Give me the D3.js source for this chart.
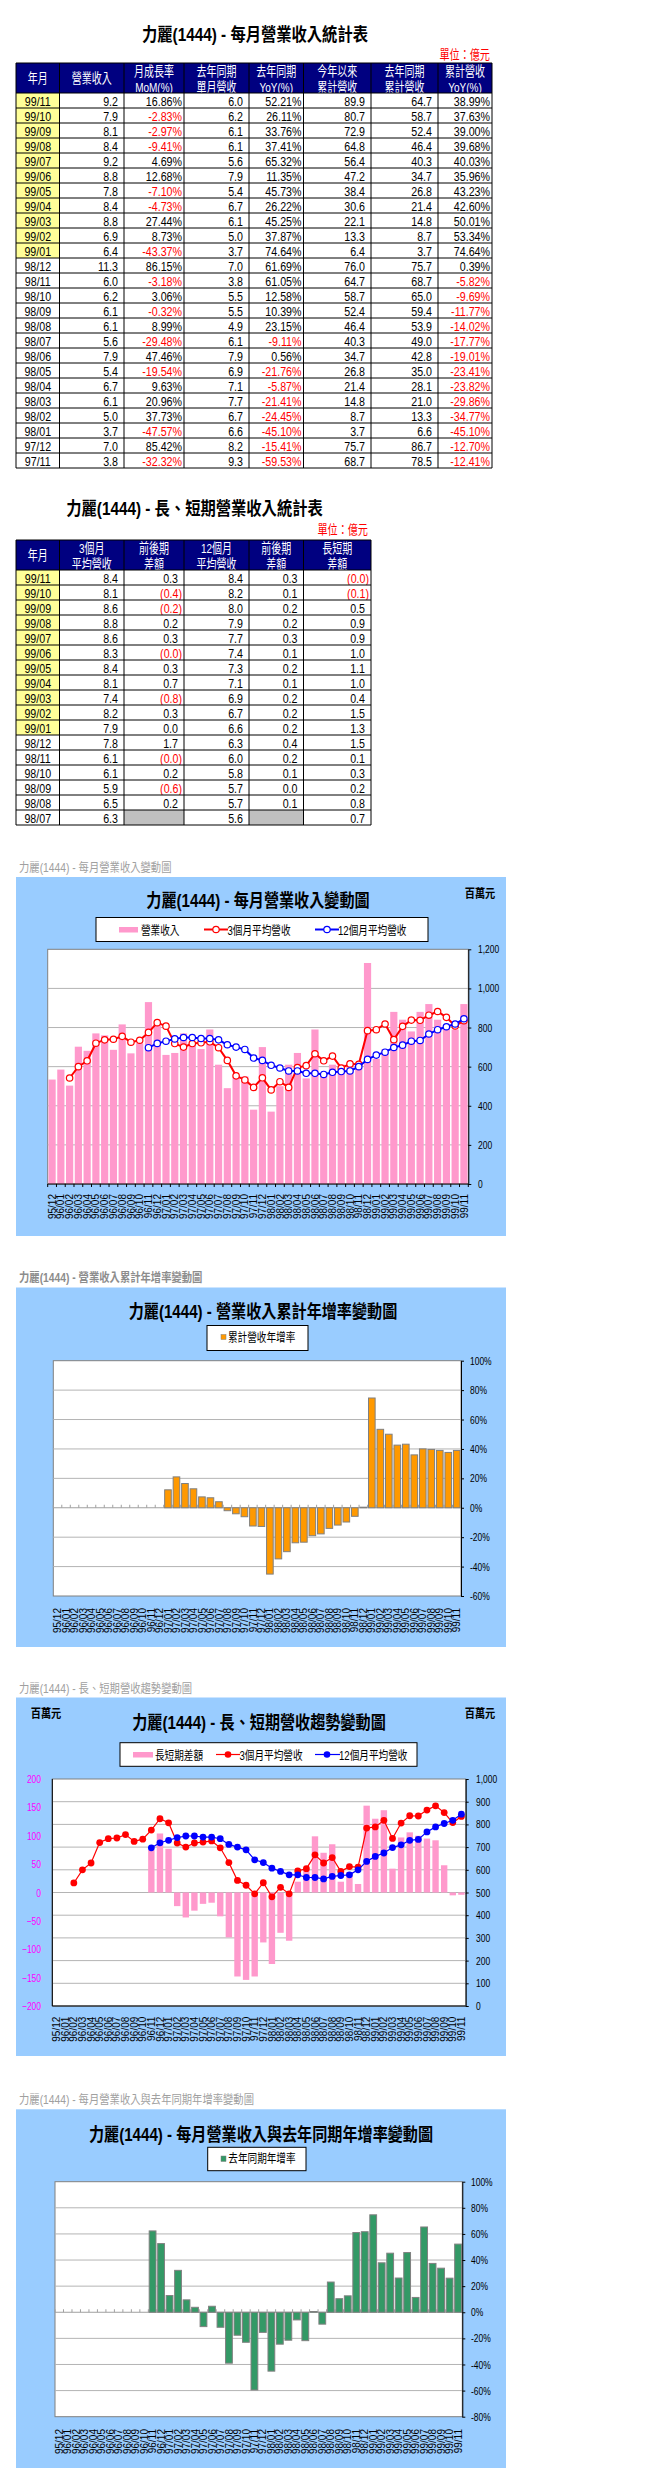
<!DOCTYPE html>
<html>
<head>
<meta charset="utf-8">
<script src="https://cdn.jsdelivr.net/npm/d3@7"></script>
<style>
  body { margin: 0; background: #fff; }
  svg { display: block; font-family: "Liberation Sans", "Noto Sans CJK TC", sans-serif; }
</style>
</head>
<body>
<div id="chart"></div>
<script>
// 月份 (圖表的類別)
const months = ["95/12",
  "96/01","96/02","96/03","96/04","96/05","96/06","96/07","96/08","96/09","96/10","96/11","96/12",
  "97/01","97/02","97/03","97/04","97/05","97/06","97/07","97/08","97/09","97/10","97/11","97/12",
  "98/01","98/02","98/03","98/04","98/05","98/06","98/07","98/08","98/09","98/10","98/11","98/12",
  "99/01","99/02","99/03","99/04","99/05","99/06","99/07","99/08","99/09","99/10","99/11"];

// 每月營收 (百萬元)
const revenue = [534,
  585,503,702,681,770,760,686,816,668,720,930,820,
  660,670,770,710,690,790,610,490,550,550,380,700,
  370,500,610,670,540,790,560,610,610,620,600,1130,
  640,690,880,840,780,880,920,840,810,790,920];

// 3個月平均營收 (百萬元)
const avg3 = [null,
  null,542,600,630,720,737,740,755,725,735,775,825,
  807,718,700,718,722,727,697,632,553,532,494,543,
  481,523,494,595,605,666,630,654,593,614,612,784,
  789,818,738,806,838,837,863,882,852,808,835];

// 12個月平均營收 (百萬元)
const avg12 = [null,
  null,null,null,null,null,null,null,null,null,null,697,719,
  730,742,749,749,744,744,737,712,700,688,644,632,
  607,593,578,578,566,566,560,571,575,578,600,637,
  659,674,698,710,730,734,767,789,804,818,845];

// 長短期差額 (百萬元)
const gapLS = [null,
  null,null,null,null,null,null,null,null,null,null,75,104,
  77,-24,-44,-32,-20,-18,-42,-79,-148,-154,-148,-88,
  -126,-71,-85,19,39,99,70,85,19,36,15,153,
  130,145,42,97,106,100,95,92,48,-5,-4];

// 累計營收年增率 (%)
const ytdYoy = [null,
  null,null,null,null,null,null,null,null,null,null,null,null,
  12.2,21.0,16.5,12.9,7.4,6.8,4.1,-2.0,-4.1,-6.1,-12.41,-12.70,
  -45.10,-34.77,-29.86,-23.82,-23.41,-19.01,-17.77,-14.02,-11.77,-9.69,-5.82,0.39,
  74.64,53.34,50.01,42.60,43.23,35.96,40.03,39.68,39.00,37.63,38.99];

// 去年同期年增率 (%)
const yoy = [null,
  null,null,null,null,null,null,null,null,null,null,62.3,52.6,
  12.8,32.1,9.5,3.8,-11.0,4.6,-11.5,-39.0,-17.6,-23.0,-59.53,-15.41,
  -45.10,-24.45,-21.41,-5.87,-21.76,0.56,-9.11,23.15,10.39,12.58,61.05,61.69,
  74.64,37.87,45.25,26.22,45.73,11.35,65.32,37.41,33.76,26.11,52.21];

// 每月營業收入統計表 (億元)
const tMonths = ["99/11","99/10","99/09","99/08","99/07","99/06","99/05","99/04","99/03","99/02","99/01",
  "98/12","98/11","98/10","98/09","98/08","98/07","98/06","98/05","98/04","98/03","98/02","98/01","97/12","97/11"];
const tRev = [9.2,7.9,8.1,8.4,9.2,8.8,7.8,8.4,8.8,6.9,6.4,11.3,6.0,6.2,6.1,6.1,5.6,7.9,5.4,6.7,6.1,5.0,3.7,7.0,3.8];
const tMom = [16.86,-2.83,-2.97,-9.41,4.69,12.68,-7.10,-4.73,27.44,8.73,-43.37,86.15,-3.18,3.06,-0.32,8.99,-29.48,47.46,-19.54,9.63,20.96,37.73,-47.57,85.42,-32.32];
const tPrevRev = [6.0,6.2,6.1,6.1,5.6,7.9,5.4,6.7,6.1,5.0,3.7,7.0,3.8,5.5,5.5,4.9,6.1,7.9,6.9,7.1,7.7,6.7,6.6,8.2,9.3];
const tYoy = [52.21,26.11,33.76,37.41,65.32,11.35,45.73,26.22,45.25,37.87,74.64,61.69,61.05,12.58,10.39,23.15,-9.11,0.56,-21.76,-5.87,-21.41,-24.45,-45.10,-15.41,-59.53];
const tYtd = [89.9,80.7,72.9,64.8,56.4,47.2,38.4,30.6,22.1,13.3,6.4,76.0,64.7,58.7,52.4,46.4,40.3,34.7,26.8,21.4,14.8,8.7,3.7,75.7,68.7];
const tPrevYtd = [64.7,58.7,52.4,46.4,40.3,34.7,26.8,21.4,14.8,8.7,3.7,75.7,68.7,65.0,59.4,53.9,49.0,42.8,35.0,28.1,21.0,13.3,6.6,86.7,78.5];
const tYtdYoy = [38.99,37.63,39.00,39.68,40.03,35.96,43.23,42.60,50.01,53.34,74.64,0.39,-5.82,-9.69,-11.77,-14.02,-17.77,-19.01,-23.41,-23.82,-29.86,-34.77,-45.10,-12.70,-12.41];

// 長、短期營業收入統計表 (億元)
const sMonths = ["99/11","99/10","99/09","99/08","99/07","99/06","99/05","99/04","99/03","99/02","99/01",
  "98/12","98/11","98/10","98/09","98/08","98/07"];
const s3 = [8.4,8.1,8.6,8.8,8.6,8.3,8.4,8.1,7.4,8.2,7.9,7.8,6.1,6.1,5.9,6.5,6.3];
const s3d = [0.3,-0.4,-0.2,0.2,0.3,-0.02,0.3,0.7,-0.8,0.3,0.0,1.7,-0.02,0.2,-0.6,0.2,null];
const s12 = [8.4,8.2,8.0,7.9,7.7,7.4,7.3,7.1,6.9,6.7,6.6,6.3,6.0,5.8,5.7,5.7,5.6];
const s12d = [0.3,0.1,0.2,0.2,0.3,0.1,0.2,0.1,0.2,0.2,0.2,0.4,0.2,0.1,0.0,0.1,null];
const sGap = [-0.04,-0.1,0.5,0.9,0.9,1.0,1.1,1.0,0.4,1.5,1.3,1.5,0.1,0.3,0.2,0.8,0.7];

const width = 653;
const height = 2480;
const SX = 0.8; // el original está comprimido en horizontal

const svg = d3.select("#chart").append("svg")
  .attr("width", width).attr("height", height);
svg.append("rect").attr("width", width).attr("height", height).attr("fill", "#fff");

function txt(g, x, y, s, o = {}) {
  return g.append("text")
    .attr("transform", `translate(${x},${y}) scale(${o.sx || SX},1)`)
    .attr("text-anchor", o.anchor || "start")
    .attr("font-size", o.size || 13)
    .attr("font-weight", o.weight || "normal")
    .attr("fill", o.color || "#000")
    .text(s);
}

// ---------- tablas ----------
function drawTable(cols, top, headers, rows) {
  const headH = 30, rowH = 15;
  const g = svg.append("g");
  const bottom = top + headH + rows.length * rowH;
  headers.forEach((lines, i) => {
    const x0 = cols[i], x1 = cols[i + 1], mid = (x0 + x1) / 2;
    g.append("rect").attr("x", x0).attr("y", top).attr("width", x1 - x0).attr("height", headH).attr("fill", "#000080");
    if (lines.length === 1) txt(g, mid, top + 20, lines[0], { size: 13.5, color: "#fff", anchor: "middle", sx: 0.74 });
    else lines.forEach((l, k) => txt(g, mid, top + 13 + k * 15.5, l, { size: 13.5, color: "#fff", anchor: "middle", sx: 0.74 }));
  });
  rows.forEach((r, ri) => {
    const y = top + headH + ri * rowH;
    r.forEach((c, ci) => {
      const x0 = cols[ci], x1 = cols[ci + 1];
      g.append("rect").attr("x", x0).attr("y", y).attr("width", x1 - x0).attr("height", rowH).attr("fill", c.fill || "#fff");
      if (c.text == null) return;
      if (c.anchor === "middle") txt(g, (x0 + x1) / 2, y + 12.8, c.text, { size: 13.5, anchor: "middle", color: c.color, sx: 0.79 });
      else txt(g, x1 - c.pad, y + 12.8, c.text, { size: 13.5, anchor: "end", color: c.color, sx: 0.79 });
    });
  });
  cols.forEach(x => g.append("line").attr("x1", x).attr("x2", x).attr("y1", top).attr("y2", bottom).attr("stroke", "#000"));
  const hs = [top, top + headH].concat(d3.range(1, rows.length + 1).map(i => top + headH + i * rowH));
  hs.forEach(y => g.append("line").attr("x1", cols[0]).attr("x2", cols[cols.length - 1]).attr("y1", y).attr("y2", y).attr("stroke", "#000"));
}

const ymCell = m => ({ text: m, anchor: "middle", fill: m.startsWith("99") ? "#FFFF99" : "#fff" });
const num = v => ({ text: v.toFixed(1), pad: 6 });
const per = v => ({ text: v.toFixed(2) + "%", pad: 2, color: v < 0 ? "#FF0000" : "#000" });
const par = v => v == null ? { fill: "#C0C0C0" }
  : v < 0 ? { text: "(" + Math.abs(v).toFixed(1) + ")", pad: 2, color: "#FF0000" }
  : { text: v.toFixed(1), pad: 6 };

txt(svg, 255, 41, "力麗(1444) - 每月營業收入統計表", { size: 18, weight: "bold", anchor: "middle", sx: 0.85 });
txt(svg, 490, 59, "單位：億元", { size: 13, anchor: "end", color: "#FF0000", sx: 0.78 });
drawTable([16, 59.5, 124, 184, 249, 303.5, 371, 438, 492], 63,
  [["年月"], ["營業收入"], ["月成長率", "MoM(%)"], ["去年同期", "單月營收"], ["去年同期", "YoY(%)"],
   ["今年以來", "累計營收"], ["去年同期", "累計營收"], ["累計營收", "YoY(%)"]],
  tMonths.map((m, i) => [ymCell(m), num(tRev[i]), per(tMom[i]), num(tPrevRev[i]), per(tYoy[i]),
    num(tYtd[i]), num(tPrevYtd[i]), per(tYtdYoy[i])]));

txt(svg, 194.5, 515, "力麗(1444) - 長、短期營業收入統計表", { size: 18, weight: "bold", anchor: "middle", sx: 0.85 });
txt(svg, 368, 534, "單位：億元", { size: 13, anchor: "end", color: "#FF0000", sx: 0.78 });
drawTable([16, 59.5, 124, 184, 249, 303.5, 371], 540,
  [["年月"], ["3個月", "平均營收"], ["前後期", "差額"], ["12個月", "平均營收"], ["前後期", "差額"], ["長短期", "差額"]],
  sMonths.map((m, i) => [ymCell(m), num(s3[i]), par(s3d[i]), num(s12[i]), par(s12d[i]), par(sGap[i])]));

// ---------- gráficos ----------
function frame(top, bottom, caption, capY, capBold, title, titleX, titleY) {
  txt(svg, 19, capY, caption, { size: 12, color: capBold ? "#8c8c8c" : "#a0a0a0", weight: capBold ? "bold" : "normal", sx: 0.86 });
  svg.append("rect").attr("x", 16).attr("y", top).attr("width", 490).attr("height", bottom - top).attr("fill", "#99CCFF");
  txt(svg, titleX, titleY, title, { size: 18, weight: "bold", anchor: "middle", sx: 0.84 });
}

function band(l, r, pad) {
  return d3.scaleBand().domain(months).range([l, r]).paddingInner(pad).paddingOuter(pad / 2);
}
const cx = (x, m) => x(m) + x.bandwidth() / 2;

function plotBox(g, x, top, bottom) {
  g.append("rect").attr("x", x.range()[0]).attr("y", top)
    .attr("width", x.range()[1] - x.range()[0]).attr("height", bottom - top)
    .attr("fill", "#fff").attr("stroke", "#808080");
}

function grid(g, x, y, values) {
  g.selectAll(null).data(values).join("line")
    .attr("x1", x.range()[0]).attr("x2", x.range()[1])
    .attr("y1", d => y(d)).attr("y2", d => y(d))
    .attr("stroke", "#b4b4b4");
}

function catAxis(g, x, yLine, labelTop, color, tickDir) {
  const step = x.step(), x0 = x.range()[0];
  g.selectAll(null).data(d3.range(months.length + 1)).join("line")
    .attr("x1", i => x0 + i * step).attr("x2", i => x0 + i * step)
    .attr("y1", yLine).attr("y2", yLine + tickDir * 3)
    .attr("stroke", color);
  g.append("line").attr("x1", x.range()[0]).attr("x2", x.range()[1])
    .attr("y1", yLine).attr("y2", yLine).attr("stroke", color);
  g.selectAll(null).data(months).join("text")
    .attr("transform", d => `translate(${cx(x, d) + 3.6},${labelTop}) rotate(-90)`)
    .attr("text-anchor", "end").attr("font-size", 10).attr("fill", "#000")
    .text(d => d);
}

function sideAxis(g, y, xPos, values, fmt, labelX, right, color) {
  const ax = (right ? d3.axisRight(y) : d3.axisLeft(y))
    .tickValues(values).tickSize(right ? 3 : 0).tickSizeOuter(0).tickFormat(fmt);
  const a = g.append("g").attr("transform", `translate(${xPos},0)`).call(ax)
    .attr("font-family", null).attr("font-size", 11);
  a.select(".domain").attr("stroke", right ? "#000" : "none");
  a.selectAll(".tick line").attr("stroke", "#000");
  a.selectAll(".tick text")
    .attr("fill", color || "#000")
    .attr("x", (labelX - xPos) / 0.77)
    .attr("transform", "scale(0.77,1)");
}

function legendBox(g, x0, y0, x1, y1) {
  g.append("rect").attr("x", x0).attr("y", y0).attr("width", x1 - x0).attr("height", y1 - y0)
    .attr("fill", "#fff").attr("stroke", "#000");
}

function lineSeries(g, x, y, values, color, w, r, open) {
  const pts = values.map((v, i) => ({ m: months[i], v })).filter(d => d.v != null);
  g.append("path").datum(pts)
    .attr("d", d3.line().x(d => cx(x, d.m)).y(d => y(d.v)))
    .attr("fill", "none").attr("stroke", color).attr("stroke-width", w);
  g.selectAll(null).data(pts).join("circle")
    .attr("cx", d => cx(x, d.m)).attr("cy", d => y(d.v)).attr("r", r)
    .attr("fill", open ? "#fff" : color).attr("stroke", color).attr("stroke-width", open ? 1.2 : 0);
}

// Gráfico 1: 每月營業收入變動圖
{
  frame(877, 1236, "力麗(1444) - 每月營業收入變動圖", 872, false, "力麗(1444) - 每月營業收入變動圖", 258, 907);
  const g = svg.append("g");
  txt(g, 480, 898, "百萬元", { size: 12, weight: "bold", anchor: "middle", sx: 0.85 });
  legendBox(g, 96, 917.5, 428, 941.5);
  g.append("rect").attr("x", 119).attr("y", 927).attr("width", 19).attr("height", 5.5).attr("fill", "#FF99CC");
  txt(g, 141, 934.5, "營業收入", { size: 12.5, sx: 0.77 });
  g.append("line").attr("x1", 204).attr("x2", 228).attr("y1", 929.5).attr("y2", 929.5).attr("stroke", "#FF0000").attr("stroke-width", 2);
  g.append("circle").attr("cx", 216).attr("cy", 929.5).attr("r", 3.2).attr("fill", "#fff").attr("stroke", "#FF0000").attr("stroke-width", 1.2);
  txt(g, 227.5, 934.5, "3個月平均營收", { size: 12.5, sx: 0.77 });
  g.append("line").attr("x1", 315).attr("x2", 339).attr("y1", 929.5).attr("y2", 929.5).attr("stroke", "#0000FF").attr("stroke-width", 2);
  g.append("circle").attr("cx", 327).attr("cy", 929.5).attr("r", 3.2).attr("fill", "#fff").attr("stroke", "#0000FF").attr("stroke-width", 1.2);
  txt(g, 338, 934.5, "12個月平均營收", { size: 12.5, sx: 0.77 });

  const x = band(47.7, 468.3, 0.18);
  const y = d3.scaleLinear().domain([0, 1200]).range([1184, 949.3]);
  plotBox(g, x, 949.3, 1184);
  grid(g, x, y, [200, 400, 600, 800, 1000]);
  g.selectAll(null).data(revenue).join("rect")
    .attr("x", (d, i) => x(months[i])).attr("width", x.bandwidth())
    .attr("y", d => y(d)).attr("height", d => y(0) - y(d))
    .attr("fill", "#FF99CC");
  lineSeries(g, x, y, avg3, "#FF0000", 2, 3.2, true);
  lineSeries(g, x, y, avg12, "#0000FF", 2, 3.2, true);
  catAxis(g, x, 1184, 1194, "#000", 1);
  sideAxis(g, y, 468.3, d3.range(0, 1201, 200), d3.format(","), 478, true);
}

// Gráfico 2: 營業收入累計年增率變動圖
{
  frame(1287.5, 1647, "力麗(1444) -  營業收入累計年增率變動圖", 1282, true, "力麗(1444) -  營業收入累計年增率變動圖", 263, 1318);
  const g = svg.append("g");
  legendBox(g, 207, 1325.5, 308, 1350.5);
  g.append("rect").attr("x", 221).attr("y", 1334.5).attr("width", 5).attr("height", 5).attr("fill", "#FF9900").attr("stroke", "#808080").attr("stroke-width", 0.5);
  txt(g, 228, 1342, "累計營收年增率", { size: 12.5, sx: 0.77 });

  const x = band(53.3, 461, 0.22);
  const y = d3.scaleLinear().domain([-60, 100]).range([1596, 1360.7]);
  plotBox(g, x, 1360.7, 1596);
  grid(g, x, y, [80, 60, 40, 20, -20, -40]);
  catAxis(g, x, y(0), 1608, "#a0a0a0", -1);
  const pts = ytdYoy.map((v, i) => ({ m: months[i], v })).filter(d => d.v != null);
  g.selectAll(null).data(pts).join("rect")
    .attr("x", d => x(d.m)).attr("width", x.bandwidth())
    .attr("y", d => y(Math.max(0, d.v))).attr("height", d => Math.abs(y(d.v) - y(0)))
    .attr("fill", "#FF9900").attr("stroke", "#808080");
  sideAxis(g, y, 461, d3.range(-60, 101, 20), d => d + "%", 470, true);
}

// Gráfico 3: 長、短期營收趨勢變動圖
{
  frame(1697.5, 2056, "力麗(1444) -  長、短期營收趨勢變動圖", 1693, false, "力麗(1444) -  長、短期營收趨勢變動圖", 259, 1729);
  const g = svg.append("g");
  txt(g, 46, 1718, "百萬元", { size: 12, weight: "bold", anchor: "middle", sx: 0.85 });
  txt(g, 480, 1718, "百萬元", { size: 12, weight: "bold", anchor: "middle", sx: 0.85 });
  legendBox(g, 120, 1742.7, 417, 1766.3);
  g.append("rect").attr("x", 133).attr("y", 1752).attr("width", 20).attr("height", 5.5).attr("fill", "#FF99CC");
  txt(g, 155, 1760, "長短期差額", { size: 12.5, sx: 0.77 });
  g.append("line").attr("x1", 216).attr("x2", 240).attr("y1", 1754.5).attr("y2", 1754.5).attr("stroke", "#FF0000").attr("stroke-width", 1.2);
  g.append("circle").attr("cx", 228).attr("cy", 1754.5).attr("r", 3.3).attr("fill", "#FF0000");
  txt(g, 239.5, 1760, "3個月平均營收", { size: 12.5, sx: 0.77 });
  g.append("line").attr("x1", 315).attr("x2", 340).attr("y1", 1754.5).attr("y2", 1754.5).attr("stroke", "#0000FF").attr("stroke-width", 1.2);
  g.append("circle").attr("cx", 327).attr("cy", 1754.5).attr("r", 3.3).attr("fill", "#0000FF");
  txt(g, 339, 1760, "12個月平均營收", { size: 12.5, sx: 0.77 });

  const x = band(52.3, 465.7, 0.26);
  const yL = d3.scaleLinear().domain([-200, 200]).range([2006, 1779]);
  const yR = d3.scaleLinear().domain([0, 1000]).range([2006, 1779]);
  plotBox(g, x, 1779, 2006);
  grid(g, x, yR, d3.range(100, 1000, 100));
  const pts = gapLS.map((v, i) => ({ m: months[i], v })).filter(d => d.v != null);
  g.selectAll(null).data(pts).join("rect")
    .attr("x", d => x(d.m)).attr("width", x.bandwidth())
    .attr("y", d => yL(Math.max(0, d.v))).attr("height", d => Math.abs(yL(d.v) - yL(0)))
    .attr("fill", "#FF99CC");
  lineSeries(g, x, yR, avg3, "#FF0000", 1.2, 3.4, false);
  lineSeries(g, x, yR, avg12, "#0000FF", 1.2, 3.4, false);
  catAxis(g, x, 2006, 2016.7, "#000", 0);
  g.append("line").attr("x1", 52.3).attr("x2", 52.3).attr("y1", 1779).attr("y2", 2006).attr("stroke", "#000");
  sideAxis(g, yL, 52.3, d3.range(-200, 201, 50), d3.format("d"), 41, false, "#FF00FF");
  sideAxis(g, yR, 465.7, d3.range(0, 1001, 100), d3.format(","), 476, true);
}

// Gráfico 4: 每月營業收入與去年同期年增率變動圖
{
  frame(2109.3, 2468, "力麗(1444) -  每月營業收入與去年同期年增率變動圖", 2104, false, "力麗(1444) -  每月營業收入與去年同期年增率變動圖", 261, 2141);
  const g = svg.append("g");
  legendBox(g, 207.7, 2147.3, 306, 2170.7);
  g.append("rect").attr("x", 221).attr("y", 2156).attr("width", 5).attr("height", 5.5).attr("fill", "#339966").attr("stroke", "#808080").attr("stroke-width", 0.5);
  txt(g, 228.3, 2163.3, "去年同期年增率", { size: 12.5, sx: 0.77 });

  const x = band(55, 462.3, 0.2);
  const y = d3.scaleLinear().domain([-80, 100]).range([2416.7, 2181.7]);
  plotBox(g, x, 2181.7, 2416.7);
  grid(g, x, y, [80, 60, 40, 20, -20, -40, -60]);
  catAxis(g, x, y(0), 2429, "#a0a0a0", -1);
  const pts = yoy.map((v, i) => ({ m: months[i], v })).filter(d => d.v != null);
  g.selectAll(null).data(pts).join("rect")
    .attr("x", d => x(d.m)).attr("width", x.bandwidth())
    .attr("y", d => y(Math.max(0, d.v))).attr("height", d => Math.abs(y(d.v) - y(0)))
    .attr("fill", "#339966").attr("stroke", "#808080");
  sideAxis(g, y, 462.3, d3.range(-80, 101, 20), d => d + "%", 471, true);
}
</script>
</body>
</html>
